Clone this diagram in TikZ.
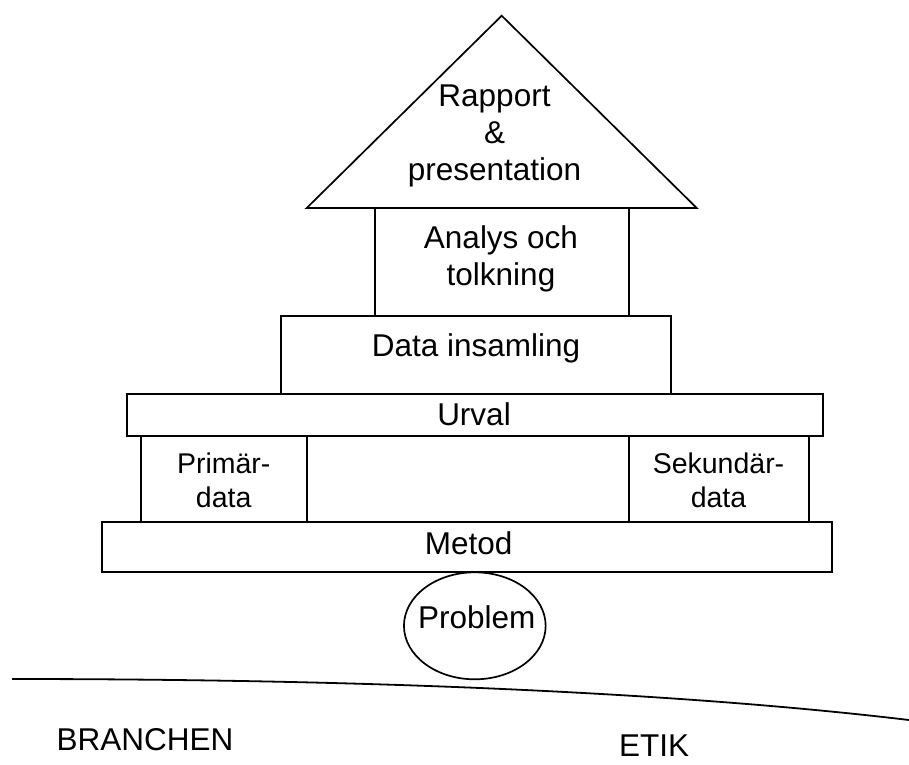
\documentclass[tikz,border=0pt]{standalone}
\usepackage{fontspec}
\setmainfont{Liberation Sans}
\usetikzlibrary{shapes.geometric}
\begin{document}
\begin{tikzpicture}[x=1pt,y=-1pt,
  outline/.style={draw, line width=1.7pt},
  block/.style={outline, rectangle, inner sep=0pt},
  lbl/.style={anchor=base, inner sep=0pt, font=\fontsize{31.5}{36}\selectfont},
  smalllbl/.style={anchor=base, inner sep=0pt, font=\fontsize{28.5}{34}\selectfont}]
\useasboundingbox (0,0) rectangle (909,764);

% roof
\coordinate (apex) at (501.7,15.7);
\coordinate (roofL) at (306.7,208);
\coordinate (roofR) at (696.7,208);
\draw[outline, line join=miter] (apex) -- (roofL) -- (roofR) -- cycle;
\node[lbl] (rap1) at (494.5,106.7) {Rapport};
\node[lbl] (rap2) at (494.5,143.3) {\&};
\node[lbl] (rap3) at (494.5,180) {presentation};

% stacked blocks
\node[block, minimum width=254pt, minimum height=107.7pt] (analys) at (502,261.85) {};
\node[lbl] (analys1) at (501,248.3) {Analys och};
\node[lbl] (analys2) at (501,285) {tolkning};

\node[block, minimum width=390pt, minimum height=78pt] (data) at (476,354.75) {};
\node[lbl] (datatext) at (476,356.7) {Data insamling};

\node[block, minimum width=696pt, minimum height=41.7pt] (urval) at (474.7,415.15) {};
\node[lbl] (urvaltext) at (474,425) {Urval};

\node[block, minimum width=166pt, minimum height=86pt] (primar) at (223.7,479) {};
\node[smalllbl] (primar1) at (223.7,473.3) {Primär-};
\node[smalllbl] (primar2) at (223.7,507.3) {data};

\node[block, minimum width=180pt, minimum height=86pt] (sekundar) at (719,479) {};
\node[smalllbl] (sek1) at (718.5,473.3) {Sekundär-};
\node[smalllbl] (sek2) at (718.5,507.7) {data};

\node[block, minimum width=730.6pt, minimum height=49.7pt] (metod) at (467,546.85) {};
\node[lbl] (metodtext) at (468.7,554) {Metod};

% foundation
\node[outline, ellipse, inner sep=0pt, minimum width=141.7pt, minimum height=107pt] (problem) at (474.8,625.8) {};
\node[lbl] (problemtext) at (476.7,628.3) {Problem};

% ground line
\coordinate (groundL) at (12,679);
\coordinate (groundR) at (909,720);
\draw[line width=1.8pt] (groundL) .. controls (400,679) and (700,695) .. (groundR);

\node[lbl] (branchen) at (145,750.7) {BRANCHEN};
\node[lbl] (etik) at (654,756) {ETIK};
\end{tikzpicture}
\end{document}
